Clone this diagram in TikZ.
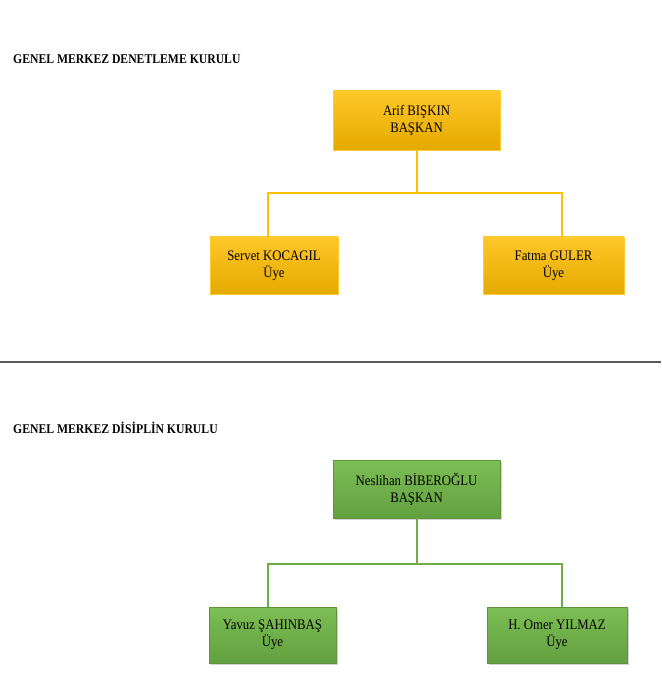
\documentclass[tikz,border=0pt]{standalone}
\usepackage{fontspec}
\setmainfont[FakeStretch=0.88]{Liberation Serif}
\usepackage{tikz}
\usepackage{xcolor}
\usetikzlibrary{calc}
\usetikzlibrary{shadows}
\definecolor{goldtop}{HTML}{FFC729}
\definecolor{goldbot}{HTML}{E4AA00}
\definecolor{goldline}{HTML}{FFC000}
\definecolor{leaftop}{HTML}{7DBE55}
\definecolor{leafbot}{HTML}{62A03F}
\definecolor{leafline}{HTML}{70AD47}
\definecolor{rulegray}{HTML}{5A5A5A}

\begin{document}
\begin{tikzpicture}[x=1pt,y=-1pt,
	title/.style={anchor=west, inner sep=0pt, font=\fontsize{13.3}{15}\selectfont\bfseries},
	goldbox/.style={draw=goldline!80!white, line width=0.8pt, top color=goldtop, bottom color=goldbot,
		align=center, inner sep=0pt, font=\fontsize{14.5}{17}\selectfont},
	leafbox/.style={draw=leafline!85!black, line width=0.8pt, top color=leaftop, bottom color=leafbot,
		align=center, inner sep=0pt, font=\fontsize{14.5}{17}\selectfont,
		drop shadow={shadow xshift=1.5pt, shadow yshift=-1.5pt, opacity=0.35}},
	goldlink/.style={draw=goldline, line width=2pt},
	leaflink/.style={draw=leafline, line width=2pt}]

\useasboundingbox (0,0) rectangle (661,700);

% Define the drop from a head box to the bus line.
\def\drop{43}

% upper board
\node[title] (t1) at (13,59) {GENEL MERKEZ DENETLEME KURULU};

\node[goldbox, minimum width=167, minimum height=59] (head1) at (416.5,120.5) {Arif BIŞKIN\\BAŞKAN};
\node[goldbox, minimum width=128, minimum height=57] (m11) at (274,265.5) {Servet KOCAGIL\\Üye};
\node[goldbox, minimum width=141, minimum height=57] (m12) at (553.5,265.5) {Fatma GULER\\Üye};

\coordinate (bus1) at ($(head1.south)+(0,\drop)$);
\path[goldlink] (head1.south) -- (bus1);
\path[goldlink] (bus1) -| ([xshift=-6pt]m11.north);
\path[goldlink] (bus1) -| ([xshift=8.5pt]m12.north);

% separator
\coordinate (sepl) at (0,362);
\coordinate (sepr) at (661,362);
\draw[rulegray, line width=2.4pt] (sepl) -- (sepr);

% lower board
\node[title] (t2) at (13,428) {GENEL MERKEZ DİSİPLİN KURULU};

\node[leafbox, minimum width=167, minimum height=58] (head2) at (416.5,489) {Neslihan BİBEROĞLU\\BAŞKAN};
\node[leafbox, minimum width=127, minimum height=56] (m21) at (272.5,635) {Yavuz ŞAHINBAŞ\\Üye};
\node[leafbox, minimum width=140, minimum height=56] (m22) at (557,635) {H. Omer YILMAZ\\Üye};

\coordinate (bus2) at ($(head2.south)+(0,\drop+3)$);
\path[leaflink] (head2.south) -- (bus2);
\path[leaflink] (bus2) -| ([xshift=-4.5pt]m21.north);
\path[leaflink] (bus2) -| ([xshift=5pt]m22.north);

\end{tikzpicture}
\end{document}
